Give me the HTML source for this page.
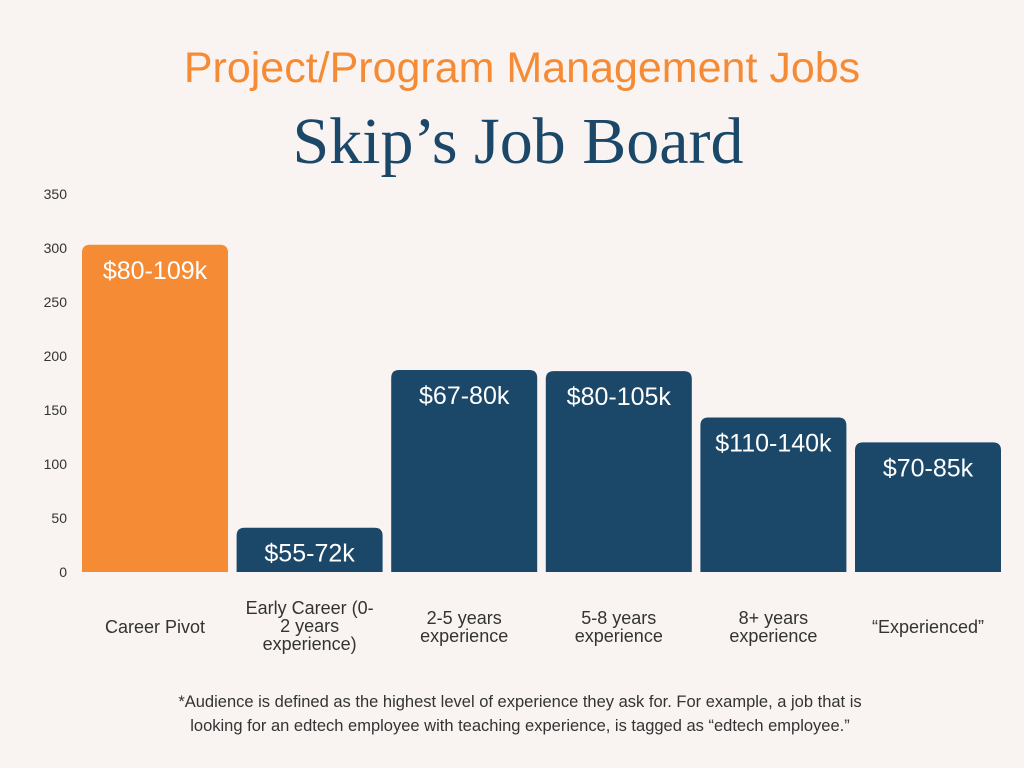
<!DOCTYPE html>
<html><head><meta charset="utf-8"><style>
body{margin:0;width:1024px;height:768px;background:#f9f4f1;overflow:hidden;font-family:"Liberation Sans",sans-serif;}
svg{display:block}
</style></head><body>
<svg width="1024" height="768">
<text x="522" y="82" text-anchor="middle" font-size="43" fill="#f58b35" font-family="Liberation Sans, sans-serif">Project/Program Management Jobs</text>
<text x="518" y="163" text-anchor="middle" font-size="66" fill="#1b4769" font-family="Liberation Serif, serif">Skip’s Job Board</text>
<g id="yaxis"></g>
<g id="bars"></g>
<g id="xlabels"></g>
<text x="520" y="707" text-anchor="middle" font-size="16.5" fill="#333">*Audience is defined as the highest level of experience they ask for. For example, a job that is</text>
<text x="520" y="731" text-anchor="middle" font-size="16.5" fill="#333">looking for an edtech employee with teaching experience, is tagged as “edtech employee.”</text>
</svg>
<script>
const categories=[["Career Pivot"],["Early Career (0-","2 years","experience)"],["2-5 years","experience"],["5-8 years","experience"],["8+ years","experience"],["“Experienced”"]];
const values=[303,41,187,186,143,120];
const salaryLabels=["$80-109k","$55-72k","$67-80k","$80-105k","$110-140k","$70-85k"];
const yTicks=[0,50,100,150,200,250,300,350];
const NS="http://www.w3.org/2000/svg";
const y0=572,pxPer=378/350;
const yScale=v=>y0-v*pxPer;
const x0=82,pitch=154.6,bw=146;
const xScale=i=>x0+i*pitch;
function mk(t,a,p){const e=document.createElementNS(NS,t);for(const k in a)e.setAttribute(k,a[k]);p.appendChild(e);return e;}
const ya=document.getElementById('yaxis');
yTicks.forEach(t=>{const e=mk('text',{x:67,y:yScale(t)+5,'text-anchor':'end','font-size':14,fill:'#333'},ya);e.textContent=t;

});
const bg=document.getElementById('bars'),xl=document.getElementById('xlabels');
values.forEach((v,i)=>{const x=xScale(i),y=yScale(v),h=y0-y,r=8;
const p=mk('path',{d:`M${x},${y0}V${y+r}Q${x},${y} ${x+r},${y}H${x+bw-r}Q${x+bw},${y} ${x+bw},${y+r}V${y0}Z`,fill:i==0?'#f58b35':'#1b4769'},bg);


const t=mk('text',{x:x+bw/2,y:y+34,'text-anchor':'middle','font-size':25,fill:'#fff'},bg);t.textContent=salaryLabels[i];


const lines=categories[i];const start=lines.length==1?633:(lines.length==2?624:614);
lines.forEach((l,j)=>{const tt=mk('text',{x:x+bw/2,y:start+j*18,'text-anchor':'middle','font-size':18,fill:'#333'},xl);tt.textContent=l;

});
});
</script>
</body></html>
